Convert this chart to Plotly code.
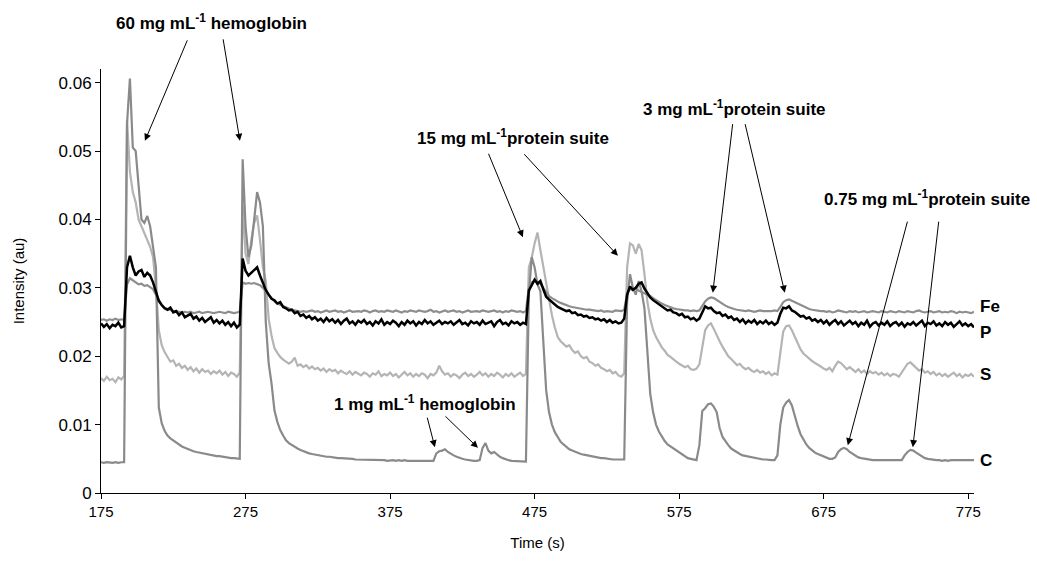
import plotly.graph_objects as go

# Sampling instants (s)
time_s = list(range(175, 780, 2))

# Intensities in units of 1e-4 au
fe_e4 = [
    253, 254, 252, 254, 253, 255, 253, 254, 253, 305,
    314, 311, 307, 305, 306, 303, 304, 301, 298, 290,
    282, 275, 271, 269, 267, 266, 266, 265, 264, 265,
    264, 265, 263, 264, 265, 263, 264, 265, 264, 263,
    264, 265, 264, 263, 265, 264, 263, 264, 265, 308,
    306, 307, 306, 307, 306, 304, 300, 295, 290, 284,
    280, 277, 275, 273, 271, 269, 268, 267, 266, 265,
    266, 265, 266, 267, 265, 266, 264, 266, 267, 265,
    266, 267, 265, 266, 264, 266, 267, 265, 266, 266,
    265, 267, 266, 264, 266, 267, 265, 266, 265, 267,
    266, 265, 267, 266, 264, 266, 265, 267, 266, 265,
    267, 266, 265, 266, 268, 265, 266, 264, 266, 267,
    265, 266, 267, 265, 266, 264, 266, 267, 265, 266,
    266, 265, 267, 266, 265, 266, 267, 265, 266, 264,
    266, 265, 267, 266, 265, 266, 264, 266, 300, 308,
    310, 308, 306, 300, 293, 288, 285, 282, 280, 278,
    276, 275, 273, 272, 271, 270, 270, 269, 268, 268,
    267, 267, 266, 267, 265, 266, 266, 265, 267, 266,
    266, 268, 292, 298, 297, 300, 296, 294, 292, 291,
    288, 285, 282, 279, 277, 275, 273, 272, 270, 269,
    268, 268, 267, 267, 266, 267, 266, 267, 273, 280,
    284, 286, 285, 282, 279, 276, 274, 272, 270, 269,
    268, 267, 267, 266, 267, 266, 265, 266, 267, 266,
    266, 265, 266, 267, 266, 272, 279, 282, 283, 281,
    279, 276, 274, 272, 270, 269, 268, 267, 267, 266,
    266, 265, 266, 264, 265, 267, 266, 265, 264, 266,
    265, 266, 264, 265, 266, 264, 265, 266, 265, 264,
    266, 265, 264, 266, 265, 264, 266, 265, 264, 266,
    265, 264, 266, 267, 265, 264, 265, 266, 264, 265,
    266, 264, 265, 264, 266, 265, 263, 265, 264, 265,
    264, 263, 265,
]

p_e4 = [
    248, 243, 247, 241, 246, 244, 249, 242, 244, 330,
    347, 330, 318, 324, 326, 316, 322, 318, 308, 296,
    281, 275, 270, 268, 271, 264, 266, 260, 264, 257,
    259, 262, 255, 258, 252, 256, 250, 254, 257, 249,
    253, 248, 252, 246, 250, 244, 249, 242, 246, 343,
    325, 318, 322, 326, 330, 318, 306, 297, 290, 284,
    282, 277, 279, 272, 270, 267, 268, 263, 265, 259,
    261, 256, 259, 254, 257, 252, 255, 250, 256, 251,
    254, 249, 253, 247, 252, 255, 248, 251, 246, 252,
    249, 253, 247, 250, 245, 251, 248, 254, 246, 250,
    247, 252, 249, 244, 250, 246, 252, 248, 251, 245,
    250, 247, 253, 248, 251, 246, 249, 252, 247, 250,
    248, 251, 246, 250, 253, 247, 249, 245, 251, 248,
    250, 246, 252, 247, 249, 251, 244, 250, 253, 247,
    249, 245, 251, 248, 250, 246, 249, 247, 296, 305,
    312, 306, 310, 298, 287, 283, 279, 276, 272, 270,
    268, 266, 267, 263, 264, 260, 261, 258, 259, 256,
    257, 254, 255, 252, 254, 250, 253, 249, 251, 248,
    249, 255, 290, 302, 297, 300, 306, 308, 299, 292,
    286, 282, 279, 275, 272, 270, 267, 268, 264, 263,
    260, 262, 257, 258, 254, 256, 252, 255, 264, 273,
    270, 271, 266, 263, 264, 259, 261, 256, 258, 253,
    255, 250, 254, 248, 252, 249, 253, 247, 251, 248,
    252, 247, 250, 246, 249, 262, 271, 270, 273, 267,
    265, 262, 258, 259, 255, 257, 252, 254, 250, 253,
    248, 252, 246, 250, 253, 247, 251, 245, 249, 252,
    247, 250, 244, 249, 246, 252, 243, 248, 250, 245,
    249, 246, 251, 244, 248, 250, 245, 249, 243, 248,
    246, 250, 245, 248, 252, 244, 249, 247, 251, 245,
    248, 244, 250, 246, 249, 243, 247, 251, 245, 248,
    244, 247, 242,
]

s_e4 = [
    168, 164, 170, 165, 167, 162, 169, 166, 171, 545,
    470, 440, 425, 400, 390, 380, 370, 360, 345, 300,
    238, 216, 206, 199, 192, 194, 186, 189, 183, 186,
    180, 184, 178, 182, 176, 181, 177, 179, 174, 178,
    175, 179, 173, 177, 171, 176, 174, 170, 176, 420,
    350, 335, 370, 395, 406, 370, 330, 310, 255, 230,
    212, 205, 199, 195, 192, 189, 192, 198, 186, 188,
    184, 187, 182, 185, 181, 183, 179, 182, 177, 181,
    178, 180, 175, 179, 176, 174, 178, 173, 177, 175,
    172, 176, 174, 170, 175, 173, 178, 171, 174, 172,
    176, 171, 174, 169, 173, 177, 172, 175, 170, 174,
    171, 175, 173, 168, 174, 172, 176, 186, 178, 173,
    175, 170, 174, 172, 168, 173, 176, 171, 174, 170,
    173, 177, 172, 175, 170, 174, 171, 176, 173, 169,
    174, 171, 175, 170, 173, 176, 171, 174, 330, 344,
    365, 381, 355, 330, 305, 280, 260, 242, 228, 222,
    218, 214, 216, 209, 205, 207, 200, 197, 199, 192,
    190, 186, 188, 183, 181, 178, 180, 175, 177, 172,
    170, 175, 330, 365, 362, 350, 364, 355, 320, 280,
    255, 238, 228, 220, 213, 208, 202, 199, 195, 192,
    189, 187, 184, 186, 181, 180, 182, 188, 215, 238,
    245, 248, 240, 230, 222, 214, 207, 200, 196, 191,
    187, 189, 184, 181, 183, 179, 177, 180, 176, 178,
    174, 177, 172, 175, 173, 205, 236, 244, 245, 238,
    228, 218, 210, 204, 200, 196, 193, 190, 188, 185,
    182, 180, 183, 178, 186, 192, 190, 185, 181, 184,
    180, 177, 181, 176, 179, 174, 178, 175, 177, 173,
    176, 172, 175, 171, 174, 173, 170, 176, 182, 189,
    191, 187, 183, 179, 181, 176, 178, 174, 177, 172,
    175, 171, 174, 170, 173, 176, 171, 174, 169, 173,
    171, 174, 170,
]

c_e4 = [
    45, 44, 45, 44, 44, 45, 44, 45, 45, 540,
    606, 505, 500, 450, 400, 395, 405, 390, 360, 330,
    125, 102, 91, 84, 80, 77, 73, 71, 68, 66,
    64, 63, 61, 60, 59, 58, 57, 56, 55, 55,
    54, 54, 53, 52, 52, 51, 51, 51, 50, 488,
    390, 345, 362, 400, 440, 425, 390, 250, 190, 160,
    121, 104, 92, 84, 77, 73, 70, 67, 65, 63,
    61, 60, 58, 57, 56, 55, 55, 54, 53, 53,
    52, 52, 51, 51, 51, 50, 50, 50, 49, 49,
    49, 49, 48, 49, 48, 48, 49, 48, 48, 47,
    48, 48, 47, 48, 47, 48, 47, 47, 48, 47,
    47, 48, 47, 47, 48, 47, 58, 61, 62, 64,
    60, 57, 55, 53, 51, 50, 49, 48, 47, 47,
    47, 48, 66, 73, 62, 58, 60, 56, 53, 51,
    49, 48, 47, 47, 46, 46, 46, 46, 290, 345,
    330, 305, 295, 220, 150, 118, 100, 89, 81, 75,
    71, 67, 64, 62, 60, 58, 57, 56, 55, 54,
    53, 52, 52, 51, 51, 50, 50, 49, 49, 49,
    48, 49, 280, 320, 300, 290, 310, 295, 270, 200,
    145, 118, 100, 90, 82, 76, 71, 68, 66, 62,
    59, 56, 53, 51, 50, 49, 48, 70, 120, 124,
    130, 131, 126, 118, 95, 82, 75, 70, 65, 62,
    59, 57, 55, 54, 53, 52, 51, 50, 50, 49,
    49, 48, 48, 48, 55, 100, 125, 132, 136, 128,
    112, 98, 86, 78, 71, 66, 62, 59, 57, 55,
    53, 52, 50, 50, 52, 60, 64, 66, 64, 60,
    57, 54, 52, 51, 50, 49, 49, 48, 48, 48,
    48, 47, 48, 47, 48, 47, 47, 48, 55, 60,
    63, 62, 59, 56, 53, 51, 50, 49, 48, 48,
    48, 47, 48, 47, 48, 48, 47, 48, 47, 48,
    48, 47, 48,
]

series_names = ["S", "C", "Fe", "P"]
series_colors = {"S": "#b4b4b4", "C": "#8a8a8a", "Fe": "#8e8e8e", "P": "#000000"}
series_widths = {"S": 2.2, "C": 2.2, "Fe": 2.2, "P": 2.5}
series_data = {"Fe": fe_e4, "P": p_e4, "S": s_e4, "C": c_e4}

x_ticks = [175, 275, 375, 475, 575, 675, 775]
y_ticks = [0, 0.01, 0.02, 0.03, 0.04, 0.05, 0.06]
y_tick_text = ["0", "0.01", "0.02", "0.03", "0.04", "0.05", "0.06"]

# Series end labels (label, intensity level)
end_labels = [("Fe", 0.0273), ("P", 0.0234), ("S", 0.0174), ("C", 0.0047)]

# Annotation texts: (text, time, y in paper units)
notes = [
    ("60 mg mL<sup>-1</sup> hemoglobin", 251.4, 1.111),
    ("15 mg mL<sup>-1</sup>protein suite", 460.3, 0.840),
    ("3 mg mL<sup>-1</sup>protein suite", 613.5, 0.908),
    ("0.75 mg mL<sup>-1</sup>protein suite", 746.7, 0.696),
    ("1 mg mL<sup>-1</sup> hemoglobin", 399.5, 0.212),
]
# Arrows: (tip time, tip intensity, tail dx px, tail dy px)
arrows = [
    (205.4, 0.0515, 43, -102),
    (271.1, 0.0515, -17, -103),
    (466.9, 0.0374, -35, -85),
    (532.6, 0.0347, -95, -103),
    (598.3, 0.0293, 20, -170),
    (648.1, 0.0293, -40, -170),
    (691.7, 0.0070, 60, -225),
    (736.7, 0.0067, 26, -227),
    (406.0, 0.0067, -8, -31),
    (435.8, 0.0066, -34, -33),
]

FONT = "Liberation Sans, Arial, sans-serif"

fig = go.Figure()
for name in series_names:
    fig.add_trace(go.Scatter(
        x=time_s, y=[v / 10000 for v in series_data[name]], mode="lines", name=name,
        line=dict(color=series_colors[name], width=series_widths[name]), showlegend=False,
    ))

annotations = []
for text, tx, ty in notes:
    annotations.append(dict(x=tx, y=ty, xref="x", yref="paper", text="<b>" + text + "</b>",
                            showarrow=False, xanchor="center", yanchor="middle",
                            font=dict(family=FONT, size=17, color="#000")))
for tx, ty, dx, dy in arrows:
    annotations.append(dict(x=tx, y=ty, xref="x", yref="y", text="", showarrow=True,
                            ax=dx, ay=dy, arrowhead=2, arrowsize=1.4, arrowwidth=1,
                            arrowcolor="#000", standoff=0))
for lab, ly in end_labels:
    annotations.append(dict(x=1.005, y=ly, xref="paper", yref="y", text="<b>" + lab + "</b>",
                            showarrow=False, xanchor="left", yanchor="middle",
                            font=dict(family=FONT, size=17, color="#000")))

fig.update_layout(
    width=1037, height=561,
    margin=dict(l=101, r=63, t=69, b=68),
    plot_bgcolor="white", paper_bgcolor="white",
    annotations=annotations,
    font=dict(family=FONT, color="#000"),
    xaxis=dict(range=[175, 779], tickvals=x_ticks, ticks="outside", ticklen=5,
               tickcolor="#000", showline=True, linecolor="#000", linewidth=1,
               showgrid=False, zeroline=False, tickfont=dict(size=15),
               title=dict(text="Time (s)", font=dict(size=15), standoff=18)),
    yaxis=dict(range=[0, 0.062], tickvals=y_ticks, ticktext=y_tick_text, ticks="outside",
               ticklen=5, tickcolor="#000", showline=True, linecolor="#000", linewidth=1,
               showgrid=False, zeroline=False, tickfont=dict(size=17),
               title=dict(text="Intensity (au)", font=dict(size=15), standoff=30)),
)

fig.write_html("out.html")
